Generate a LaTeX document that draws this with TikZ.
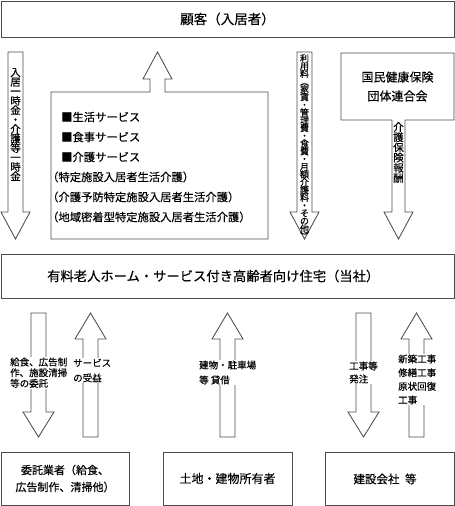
\documentclass[tikz,border=0pt]{standalone}
\usepackage{fontspec}
\setmainfont{Noto Sans CJK JP}[FakeBold=0.35]
\lineskiplimit=-20pt
\begin{document}
\begin{tikzpicture}[x=1pt,y=-1pt,line join=miter,
  ln/.style={draw=black!70,line width=0.85pt},
  box/.style={ln,fill=white,inner sep=0pt,align=center},
  vt/.style={align=center,inner sep=0pt},
  lbl/.style={fill=white,inner sep=1pt,align=left,anchor=west},
  lst/.style={anchor=base west,inner sep=0pt,font=\fontsize{11.3}{13}\selectfont}]
\useasboundingbox (0,0) rectangle (455,506);
% boxes
\node[box,minimum width=453pt,minimum height=36pt,font=\fontsize{13.5}{16}\selectfont] (cust) at (227.5,19) {顧客（入居者）};
\node[box,minimum width=453pt,minimum height=44pt] (home) at (227.5,276) {};
\node[anchor=west,inner sep=0pt,font=\fontsize{13.3}{16}\selectfont] (homet) at (47,276) {有料老人ホーム・サービス付き高齢者向け住宅（当社）};
\node[box,minimum width=128pt,minimum height=53pt,font=\fontsize{11}{17}\selectfont] (itaku) at (65,478.5) {委託業者（給食、\\広告制作、清掃他）};
\node[box,minimum width=129pt,minimum height=53pt,font=\fontsize{12}{16}\selectfont] (owner) at (227.5,478.5) {土地・建物所有者};
\node[box,minimum width=129pt,minimum height=53pt] (const) at (389.5,478.5) {};
\node[inner sep=0pt,font=\fontsize{11.5}{16}\selectfont] (constt) at (385,479) {建設会社\hspace{3pt} 等};
% top arrows
\draw[ln] (8,52) -- (8,212) -- (1,212) -- (15.5,239) -- (30,212) -- (23,212) -- (23,52) -- cycle;
\draw[ln] (51,92) -- (150,92) -- (150,79) -- (143,79) -- (157.5,52) -- (172,79) -- (165,79) -- (165,92) -- (268,92) -- (268,239) -- (51,239) -- cycle;
\draw[ln] (297,52) -- (297,212) -- (290,212) -- (304.5,239) -- (319,212) -- (312,212) -- (312,52) -- cycle;
\draw[ln] (341,53) -- (454,53) -- (454,120) -- (405,120) -- (405,212) -- (413,212) -- (398.5,239) -- (384,212) -- (392,212) -- (392,120) -- (341,120) -- cycle;
% vertical texts
\node[vt,font=\fontsize{10.5}{9.45}\selectfont] (v1) at (15.5,124.5) {入\\居\\一\\時\\金\\・\\介\\護\\等\\一\\時\\金};
\node[vt,font=\fontsize{9}{7.74}\selectfont] (v2) at (304.5,147) {利\\用\\料\\︵\\家\\賃\\・\\管\\理\\費\\・\\食\\費\\・\\月\\額\\介\\護\\料\\・\\そ\\の\\他\\︶};
\node[vt,font=\fontsize{10.5}{10.2}\selectfont] (v3) at (398.5,152.5) {介\\護\\保\\険\\報\\酬};
\node[vt,font=\fontsize{12}{19}\selectfont] (kokuho) at (397.5,86.5) {国民健康保険\\団体連合会};
% service list
\node[lst] (l1) at (61,121.3) {■生活サービス};
\node[lst] (l2) at (61,141.3) {■食事サービス};
\node[lst] (l3) at (61,161.3) {■介護サービス};
\node[lst] (l4) at (47,181.3) {（特定施設入居者生活介護）};
\node[lst] (l5) at (47,201.3) {（介護予防特定施設入居者生活介護）};
\node[lst] (l6) at (47,221.3) {（地域密着型特定施設入居者生活介護）};
% bottom arrows
\draw[ln] (31,313) -- (31,412) -- (23,412) -- (38.5,437) -- (54,412) -- (46,412) -- (46,313) -- cycle;
\draw[ln] (83,437) -- (83,339) -- (75,339) -- (90.5,313) -- (106,339) -- (98,339) -- (98,437) -- cycle;
\draw[ln] (220,437) -- (220,339) -- (212,339) -- (227.5,313) -- (243,339) -- (235,339) -- (235,437) -- cycle;
\draw[ln] (356,313) -- (356,412) -- (348,412) -- (363.5,437) -- (379,412) -- (371,412) -- (371,313) -- cycle;
\draw[ln] (409,437) -- (409,339) -- (401,339) -- (416.5,313) -- (432,339) -- (424,339) -- (424,437) -- cycle;
% bottom labels
\node[lbl,font=\fontsize{9.5}{10.7}\selectfont] (b1) at (9,372.7) {給食、広告制\\作、施設清掃\\等の委託};
\node[lbl,font=\fontsize{9.5}{15}\selectfont] (b2) at (72,370.5) {サービス\\の受益};
\node[lbl,font=\fontsize{9.5}{15}\selectfont] (b3) at (198,372.5) {建物・駐車場\\等 貸借};
\node[lbl,font=\fontsize{9.5}{13}\selectfont] (b4) at (348,372.5) {工事等\\発注};
\node[lbl,font=\fontsize{9.5}{13.7}\selectfont] (b5) at (397,379.5) {新築工事\\修繕工事\\原状回復\\工事};
\end{tikzpicture}
\end{document}
